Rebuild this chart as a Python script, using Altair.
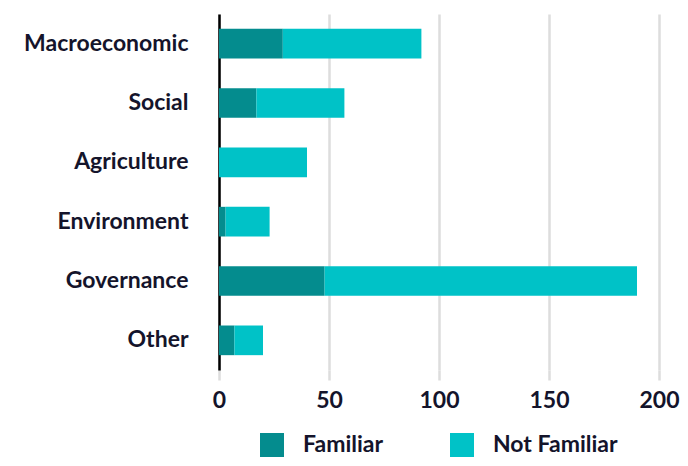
import altair as alt
import pandas as pd

categories = ["Macroeconomic", "Social", "Agriculture", "Environment", "Governance", "Other"]
familiar = [29, 17, 0, 3, 48, 7]
not_familiar = [63, 40, 40, 20, 142, 13]
series = ["Familiar", "Not Familiar"]
colors = ["#048c8e", "#00c2c7"]

rows = []
for c, f, n in zip(categories, familiar, not_familiar):
    rows.append({"category": c, "group": "Familiar", "value": f, "order": 0})
    rows.append({"category": c, "group": "Not Familiar", "value": n, "order": 1})
df = pd.DataFrame(rows)

FONT = "Lato"
TXT = "#14142b"
FS = 23

chart = alt.Chart(df).mark_bar().encode(
    y=alt.Y("category:N", sort=categories, title=None,
            scale=alt.Scale(paddingInner=0.5, paddingOuter=0.25),
            axis=alt.Axis(domain=True, domainColor="#000000", domainWidth=2.5,
                          ticks=False, labelPadding=31, labelFontSize=FS,
                          labelFont=FONT, labelFontWeight="bold", labelColor=TXT,
                          grid=False)),
    x=alt.X("value:Q", title=None, stack="zero",
            scale=alt.Scale(domain=[0, 200], nice=False),
            axis=alt.Axis(values=[0, 50, 100, 150, 200], domain=False,
                          grid=True, gridColor="#dddddd", gridWidth=2.5,
                          ticks=True, tickColor="#dddddd", tickWidth=2.5, tickSize=10,
                          labelFontSize=FS, labelFont=FONT, labelFontWeight="bold",
                          labelColor=TXT, labelPadding=9, labelFlush=False)),
    color=alt.Color("group:N", sort=series,
                    scale=alt.Scale(domain=series, range=colors),
                    legend=alt.Legend(title=None, orient="none", direction="horizontal",
                                      legendX=41, legendY=419,
                                      symbolType="square", symbolSize=576,
                                      symbolStrokeWidth=0,
                                      labelFontSize=FS, labelFont=FONT,
                                      labelFontWeight="bold", labelColor=TXT,
                                      labelOffset=19, columnPadding=66)),
    order=alt.Order("order:Q"),
).properties(
    width=440, height=356,
    autosize=alt.AutoSizeParams(type="none"),
    padding={"left": 211, "top": 6, "right": 21, "bottom": 88},
).configure_view(stroke=None)

chart.save("out.html", embed_options={"renderer": "svg", "actions": False})
